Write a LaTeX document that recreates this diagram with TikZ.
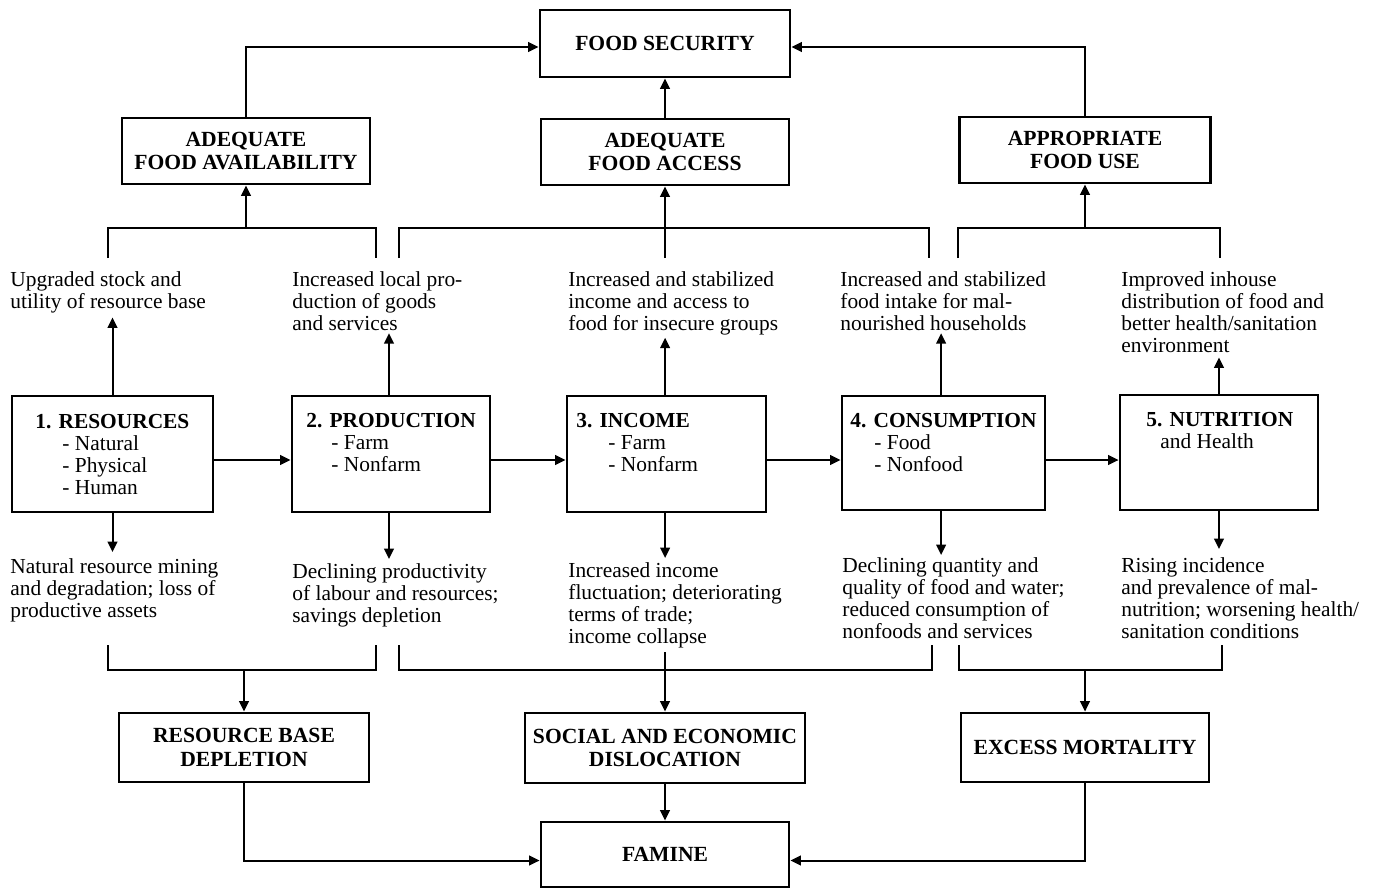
\documentclass[tikz,border=0pt]{standalone}
\usepackage{fontspec}
\setmainfont{Liberation Serif}
\usetikzlibrary{arrows.meta}
\begin{document}
\begin{tikzpicture}[x=0.5pt,y=-0.5pt,
  box/.style={draw, line width=1.4pt, inner sep=0pt, align=center,
    font=\fontsize{10.8}{11.6}\selectfont\bfseries},
  btxt/.style={font=\fontsize{10.7}{11}\selectfont, align=left, inner sep=0pt, anchor=north west},
  txt/.style={font=\fontsize{10.7}{11.1}\selectfont, align=left, inner sep=0pt, anchor=north west},
  ln/.style={line width=1pt},
  arr/.style={line width=1pt, -{Triangle[length=5.2pt,width=4.8pt]}},
]
\useasboundingbox (0,0) rectangle (1374,890);

% top boxes
\node[box, minimum width=125pt, minimum height=33.5pt] (fs) at (665,43.5) {FOOD SECURITY};
\node[box, minimum width=124pt, minimum height=33pt] (avail) at (246,151) {ADEQUATE\\FOOD AVAILABILITY};
\node[box, minimum width=124pt, minimum height=33pt] (access) at (665,152) {ADEQUATE\\FOOD ACCESS};
\node[box, minimum width=125.5pt, minimum height=33pt] (use) at (1085,150) {APPROPRIATE\\FOOD USE};

% main boxes
\node[box, minimum width=100.5pt, minimum height=58pt] (res) at (112.5,454) {};
\node[box, minimum width=99pt, minimum height=58pt] (prod) at (391,454) {};
\node[box, minimum width=99.5pt, minimum height=58pt] (inc) at (666.5,454) {};
\node[box, minimum width=101.5pt, minimum height=57pt] (cons) at (943.5,453) {};
\node[box, minimum width=99pt, minimum height=57.5pt] (nut) at (1219,452.5) {};

\node[btxt] (resT) at (35,414) {\textbf{1. RESOURCES}\\\hspace*{13.5pt}- Natural\\\hspace*{13.5pt}- Physical\\\hspace*{13.5pt}- Human};
\node[btxt] (prodT) at (306,413) {\textbf{2. PRODUCTION}\\\hspace*{12.5pt}- Farm\\\hspace*{12.5pt}- Nonfarm};
\node[btxt] (incT) at (576,413) {\textbf{3. INCOME}\\\hspace*{16pt}- Farm\\\hspace*{16pt}- Nonfarm};
\node[btxt] (consT) at (850,413) {\textbf{4. CONSUMPTION}\\\hspace*{12pt}- Food\\\hspace*{12pt}- Nonfood};
\node[btxt] (nutT) at (1146,412) {\textbf{5. NUTRITION}\\\hspace*{7pt}and Health};

% upper texts
\node[txt] (up1) at (10,271) {Upgraded stock and\\utility of resource base};
\node[txt] (up2) at (292,271) {Increased local pro-\\duction of goods\\and services};
\node[txt] (up3) at (568,271) {Increased and stabilized\\income and access to\\food for insecure groups};
\node[txt] (up4) at (840,271) {Increased and stabilized\\food intake for mal-\\nourished households};
\node[txt] (up5) at (1121,271) {Improved inhouse\\distribution of food and\\better health/sanitation\\environment};

% lower texts
\node[txt] (lo1) at (10,558) {Natural resource mining\\and degradation; loss of\\productive assets};
\node[txt] (lo2) at (292,563) {Declining productivity\\of labour and resources;\\savings depletion};
\node[txt] (lo3) at (568,562) {Increased income\\fluctuation; deteriorating\\terms of trade;\\income collapse};
\node[txt] (lo4) at (842,557) {Declining quantity and\\quality of food and water;\\reduced consumption of\\nonfoods and services};
\node[txt] (lo5) at (1121,557) {Rising incidence\\and prevalence of mal-\\nutrition; worsening health/\\sanitation conditions};

% bottom boxes
\node[box, minimum width=125pt, minimum height=34.5pt] (depl) at (244,747.5) {RESOURCE BASE\\DEPLETION};
\node[box, minimum width=140pt, minimum height=35pt] (disl) at (665,748) {SOCIAL AND ECONOMIC\\DISLOCATION};
\node[box, minimum width=124pt, minimum height=34.5pt] (mort) at (1085,747.5) {EXCESS MORTALITY};
\node[box, minimum width=124pt, minimum height=32.5pt] (fam) at (665,854.5) {FAMINE};

% top arrows into FOOD SECURITY
\draw[arr] (avail.north) |- ([yshift=-1.75pt]fs.west);
\draw[arr] (use.north) |- ([yshift=-1.75pt]fs.east);
\draw[arr] (access.north) -- (fs.south);

% upper brackets
\coordinate (hu) at (0,228);
\coordinate (a1) at (108,258);
\coordinate (a2) at (376,258);
\coordinate (b1) at (399,258);
\coordinate (b2) at (929,258);
\coordinate (b3) at (665,258);
\coordinate (c1) at (958,258);
\coordinate (c2) at (1220,258);
\draw[ln] (a1) -- (a1 |- hu) -- (a2 |- hu) -- (a2);
\draw[arr] (avail.south |- hu) -- (avail.south);
\draw[ln] (b1) -- (b1 |- hu) -- (b2 |- hu) -- (b2);
\draw[arr] (b3) -- (access.south);
\draw[ln] (c1) -- (c1 |- hu) -- (c2 |- hu) -- (c2);
\draw[arr] (use.south |- hu) -- (use.south);

% box to upper text
\draw[arr, shorten >=2pt] (res.north) -- (res.north |- up1.south);
\draw[arr, shorten >=1pt] ([xshift=-1pt]prod.north) -- ([xshift=-1pt]prod.north |- up2.south);
\draw[arr, shorten >=1pt] ([xshift=-0.7pt]inc.north) -- ([xshift=-0.7pt]inc.north |- up3.south);
\draw[arr, shorten >=1pt] ([xshift=-1.2pt]cons.north) -- ([xshift=-1.2pt]cons.north |- up4.south);
\draw[arr, shorten >=2pt] (nut.north) -- (nut.north |- up5.south);

% horizontal arrows
\draw[arr] ([yshift=-3pt]res.east) -- ([yshift=-3pt]prod.west);
\draw[arr] ([yshift=-3pt]prod.east) -- ([yshift=-3pt]inc.west);
\draw[arr] ([yshift=-3pt]inc.east) -- ([yshift=-3pt]inc.east -| cons.west);
\draw[arr] ([yshift=-3.5pt]cons.east) -- ([yshift=-3.5pt]cons.east -| nut.west);

% box to lower text
\draw[arr, shorten >=3pt] (res.south) -- (res.south |- lo1.north);
\draw[arr, shorten >=2pt] ([xshift=-1pt]prod.south) -- ([xshift=-1pt]prod.south |- lo2.north);
\draw[arr, shorten >=2pt] ([xshift=-0.7pt]inc.south) -- ([xshift=-0.7pt]inc.south |- lo3.north);
\draw[arr, shorten >=1pt] ([xshift=-1.2pt]cons.south) -- ([xshift=-1.2pt]cons.south |- lo4.north);
\draw[arr, shorten >=4pt] (nut.south) -- (nut.south |- lo5.north);

% lower brackets
\coordinate (hl) at (0,670);
\coordinate (d1) at (108,645);
\coordinate (d2) at (376,645);
\coordinate (e1) at (399,645);
\coordinate (e2) at (932,645);
\coordinate (e3) at (665,652);
\coordinate (f1) at (959,645);
\coordinate (f2) at (1222,645);
\draw[ln] (d1) -- (d1 |- hl) -- (d2 |- hl) -- (d2);
\draw[arr] (depl.north |- hl) -- (depl.north);
\draw[ln] (e1) -- (e1 |- hl) -- (e2 |- hl) -- (e2);
\draw[arr] (e3) -- (disl.north);
\draw[ln] (f1) -- (f1 |- hl) -- (f2 |- hl) -- (f2);
\draw[arr] (mort.north |- hl) -- (mort.north);

% into famine
\draw[arr] (depl.south) |- ([yshift=-3pt]fam.west);
\draw[arr] (mort.south) |- ([yshift=-3pt]fam.east);
\draw[arr] (disl.south) -- (fam.north);
\end{tikzpicture}
\end{document}
